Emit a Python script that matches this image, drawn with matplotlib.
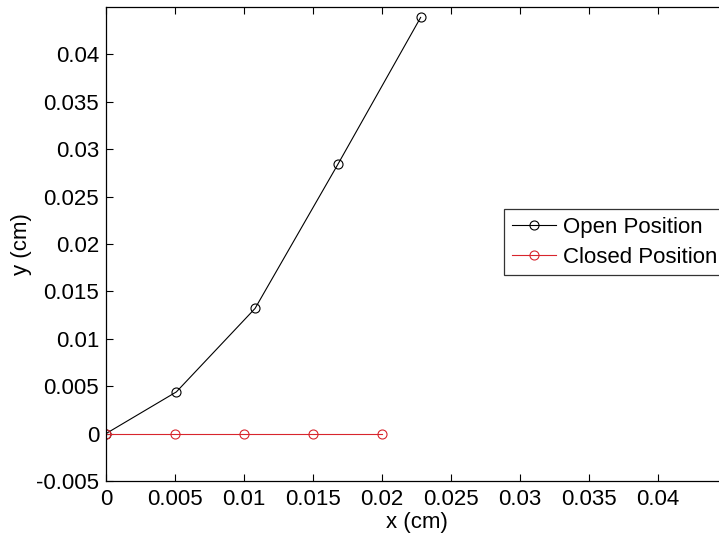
import numpy as np
import matplotlib
matplotlib.use("Agg")
import matplotlib.pyplot as plt

# ------------------- Datos -------------------
x_open = [0.0, 0.0051, 0.0108, 0.0168, 0.0228]
y_open = [0.0, 0.0044, 0.0132, 0.0284, 0.0439]

x_closed = [0.0, 0.005, 0.01, 0.015, 0.02]
y_closed = [0.0, 0.0, 0.0, 0.0, 0.0]

xticks = [0, 0.005, 0.01, 0.015, 0.02, 0.025, 0.03, 0.035, 0.04]
xtick_labels = ["0", "0.005", "0.01", "0.015", "0.02", "0.025", "0.03", "0.035", "0.04"]
yticks = [-0.005, 0, 0.005, 0.01, 0.015, 0.02, 0.025, 0.03, 0.035, 0.04]
ytick_labels = ["-0.005", "0", "0.005", "0.01", "0.015", "0.02", "0.025", "0.03", "0.035", "0.04"]

# ------------------- Figura -------------------
plt.rcParams["font.family"] = ["Liberation Sans", "DejaVu Sans"]
fs = 16

fig = plt.figure(figsize=(7.19, 5.35), dpi=100)
W, H = 719, 535
left, right, top, bottom = 106, 727, 7, 481
ax = fig.add_axes([left / W, 1 - bottom / H, (right - left) / W, (bottom - top) / H])

ax.plot(x_open, y_open, "-o", color="black", lw=0.8, ms=6.5,
        mfc="none", mew=0.8, label="Open Position")
ax.plot(x_closed, y_closed, "-o", color="#d8252d", lw=0.8, ms=6.5,
        mfc="none", mew=0.8, label="Closed Position")

ax.set_xlim(0, 0.045)
ax.set_ylim(-0.005, 0.045)
ax.set_xticks(xticks)
ax.set_xticklabels(xtick_labels)
ax.set_yticks(yticks)
ax.set_yticklabels(ytick_labels)
ax.tick_params(direction="in", length=5, width=0.8, labelsize=fs,
               top=True, right=True)
ax.tick_params(axis="x", pad=6)
ax.tick_params(axis="y", pad=5)
for s in ax.spines.values():
    s.set_linewidth(0.9)

ax.set_xlabel("x (cm)", fontsize=fs, labelpad=1)
ax.set_ylabel("y (cm)", fontsize=fs, labelpad=3)

leg = ax.legend(loc="upper left", bbox_to_anchor=(504 / W, 1 - 209 / H),
                bbox_transform=fig.transFigure, borderaxespad=0,
                fontsize=fs, frameon=True, fancybox=False, shadow=False,
                handlelength=2.0, handletextpad=0.3, labelspacing=0.4,
                borderpad=0.35)
leg.get_frame().set_edgecolor("black")
leg.get_frame().set_linewidth(0.9)

fig.savefig("out.png", dpi=100)
